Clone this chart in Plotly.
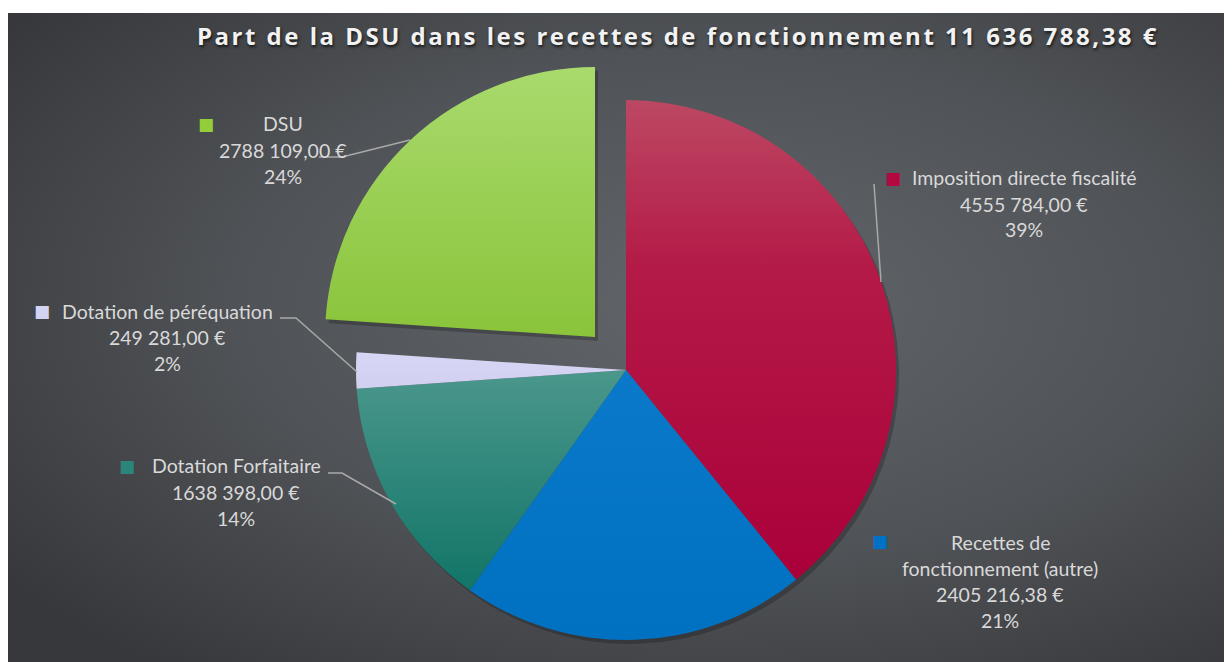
import base64
import plotly.graph_objects as go

# ---------------- data ----------------
labels = ["Imposition directe fiscalité", "Recettes de fonctionnement (autre)",
          "Dotation Forfaitaire", "Dotation de péréquation", "DSU"]
label_lines = [["Imposition directe fiscalité"],
               ["Recettes de", "fonctionnement (autre)"],
               ["Dotation Forfaitaire"],
               ["Dotation de péréquation"],
               ["DSU"]]
values = [4555784.00, 2405216.38, 1638398.00, 249281.00, 2788109.00]
colors = ["#b20a40", "#0072c6", "#2b857a", "#d5d3f2", "#93cd3a"]
pulled_label = "DSU"
title_text = "Part de la DSU dans les recettes de fonctionnement 11 636 788,38 €"

# ---------------- layout helpers ----------------
OFF = 8                      # default body margin of the html page
W, H = 1232 - OFF, 662 - OFF  # figure size so that it fits the window


def px(x):  # screen pixel -> paper
    return (x - OFF) / W


def py(y):
    return 1 - (y - OFF) / H


def fmt_eur(v):
    cents = int(round(v * 100))
    ip, dec = divmod(cents, 100)
    hi, lo = divmod(ip, 1000)
    s = f"{hi} {lo:03d}" if hi else f"{lo}"
    return f"{s},{dec:02d} €"


total = sum(values)
TRANSP = "rgba(0,0,0,0)"


def pie(center, r, cols):
    cx, cy = center
    return go.Pie(
        labels=labels, values=values, sort=False, direction="clockwise",
        rotation=0, textinfo="none", hoverinfo="skip", showlegend=False,
        marker=dict(colors=cols, line=dict(width=0)),
        domain=dict(x=[px(cx - r), px(cx + r)], y=[py(cy + r), py(cy - r)]),
    )


R = 270
main_c = (626, 370)
pull_c = (595, 337)
sh = (3, 4)

fig = go.Figure()
fig.add_trace(pie((main_c[0] + sh[0], main_c[1] + sh[1]), R,
                  ["rgba(0,0,0,0.22)" if l != pulled_label else TRANSP for l in labels]))
fig.add_trace(pie((pull_c[0] + sh[0], pull_c[1] + sh[1]), R,
                  ["rgba(0,0,0,0.22)" if l == pulled_label else TRANSP for l in labels]))
fig.add_trace(pie(main_c, R, [c if l != pulled_label else TRANSP for l, c in zip(labels, colors)]))
fig.add_trace(pie(pull_c, R, [c if l == pulled_label else TRANSP for l, c in zip(labels, colors)]))

# ---------------- background gradient ----------------
svg = ("<svg xmlns='http://www.w3.org/2000/svg' width='1224' height='649'>"
       "<defs><radialGradient id='g' cx='0.58' cy='0.45' r='0.72'>"
       "<stop offset='0' stop-color='#62656a'/>"
       "<stop offset='0.55' stop-color='#4f5256'/>"
       "<stop offset='1' stop-color='#37383b'/>"
       "</radialGradient></defs>"
       "<rect width='100%' height='100%' fill='url(#g)'/></svg>")
src = "data:image/svg+xml;base64," + base64.b64encode(svg.encode()).decode()

# ---------------- labels ----------------
label_font = dict(family="Lato, 'Open Sans', sans-serif", size=19.5, color="#d9d9d9")
blocks = [  # (center_x, first_line_y, square_x, square_y) in screen px
    (1024, 178, 893, 178),
    (1000, 542, 880, 541),
    (236, 466, 127, 466),
    (167, 311, 42, 311),
    (283, 124, 206, 124),
]
LS = 26
annotations = []
for i, (name_lines, v, col) in enumerate(zip(label_lines, values, colors)):
    cx, y0, sx, sy = blocks[i]
    lines = name_lines + [fmt_eur(v), f"{round(v / total * 100)}%"]
    for k, t in enumerate(lines):
        annotations.append(dict(x=px(cx), y=py(y0 + k * LS), xref="paper", yref="paper",
                                text=t, showarrow=False, xanchor="center", yanchor="middle",
                                font=label_font))
    annotations.append(dict(x=px(sx), y=py(sy), xref="paper", yref="paper", text="■",
                            showarrow=False, xanchor="center", yanchor="middle",
                            font=dict(family="DejaVu Sans", size=17, color=col)))

# ---------------- leader lines ----------------
leaders = [
    [(874, 184), (881, 282)],
    [(319, 157), (342, 157), (410, 140)],
    [(280, 318), (296, 318), (357, 372)],
    [(328, 473), (342, 473), (396, 504)],
]
shapes = []
for pts in leaders:
    path = "M " + " L ".join(f"{px(x)},{py(y)}" for x, y in pts)
    shapes.append(dict(type="path", path=path, xref="paper", yref="paper",
                       line=dict(color="#a9a9a9", width=1.5)))

fig.update_layout(
    width=W, height=H, margin=dict(l=0, r=0, t=0, b=0),
    paper_bgcolor="white", plot_bgcolor="white",
    images=[dict(source=src, xref="paper", yref="paper", x=0, y=py(13),
                 sizex=1, sizey=py(13), xanchor="left", yanchor="top",
                 sizing="stretch", layer="below")],
    title=dict(text=f"<b>{title_text}</b>", x=px(678), y=py(37), xanchor="center",
               yanchor="middle",
               font=dict(family="'Open Sans', sans-serif", size=24, color="#f2f2f2",
                         shadow="1px 2px 3px rgba(0,0,0,0.7)")),
    annotations=annotations,
    shapes=shapes,
)

# letter spacing of the title and vertical gradients on the slices (Excel look)
post = r"""
var gd = document.getElementById('{plot_id}');
var t = gd.querySelector('.gtitle');
if (t) { t.style.letterSpacing = '2.5px'; }
var svg = gd.querySelector('svg.main-svg');
var NS = 'http://www.w3.org/2000/svg';
var defs = document.createElementNS(NS, 'defs');
svg.insertBefore(defs, svg.firstChild);
function grad(id, stops) {
  var g = document.createElementNS(NS, 'linearGradient');
  g.setAttribute('id', id);
  g.setAttribute('x1', '0'); g.setAttribute('y1', '0');
  g.setAttribute('x2', '0'); g.setAttribute('y2', '1');
  stops.forEach(function (s) {
    var st = document.createElementNS(NS, 'stop');
    st.setAttribute('offset', s[0]);
    st.setAttribute('stop-color', s[1]);
    g.appendChild(st);
  });
  defs.appendChild(g);
}
grad('gRed', [[0, '#bc4863'], [0.35, '#b41a47'], [1, '#aa003a']]);
grad('gBlue', [[0, '#0a79c9'], [1, '#0070c0']]);
grad('gTeal', [[0, '#4b978c'], [1, '#117567']]);
grad('gLav', [[0, '#d8d6f5'], [1, '#d2d0f0']]);
grad('gGreen', [[0, '#a9da6d'], [1, '#8ac43a']]);
var ids = ['gRed', 'gBlue', 'gTeal', 'gLav', 'gGreen'];
var traces = gd.querySelectorAll('.pielayer .trace');
function paint(tr, idx) {
  if (!tr) return;
  var sl = tr.querySelectorAll('g.slice path.surface');
  idx.forEach(function (i) { if (sl[i]) sl[i].style.fill = 'url(#' + ids[i] + ')'; });
}
paint(traces[2], [0, 1, 2, 3]);
paint(traces[3], [4]);
"""

fig.write_html("out.html", post_script=post)
